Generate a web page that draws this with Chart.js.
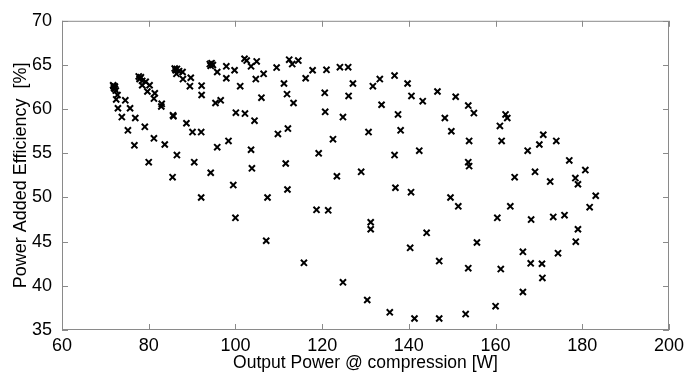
<!DOCTYPE html>
<html>
<head>
<meta charset="utf-8">
<script src="https://cdn.jsdelivr.net/npm/chart.js@4.4.1/dist/chart.umd.min.js"></script>
<style>
  html, body { margin: 0; padding: 0; background: #fff; }
  #wrap { width: 697px; height: 374px; }
</style>
</head>
<body>
<div id="wrap"><canvas id="paeChart" width="697" height="374"></canvas></div>
<script>
// output power [W] and PAE [%], paired by index
var outputPower = [
  71.8, 72.2, 72.0, 72.4, 71.9, 72.2, 72.8, 72.5, 74.6, 72.9, 75.7, 73.8, 76.9, 75.2, 79.1, 76.7, 81.2, 80.0, 83.7,
  77.7, 78.2, 77.9, 78.5, 79.3, 78.5, 80.2, 79.7, 81.4, 81.2, 83.0, 82.9, 78.0,
  85.6, 85.7, 88.7, 90.1, 92.1, 86.5, 90.5,
  86.0, 86.5, 87.0, 86.4, 87.8, 87.9, 89.7, 89.5, 92.2, 92.2, 86.2,
  95.4, 96.6, 95.8, 98.4, 94.3,
  94.1, 94.5, 94.8, 94.3, 95.8, 97.9, 99.8, 97.9, 101.1, 100.1, 102.2, 104.4, 106.0, 106.5, 104.7, 102.1, 102.6, 103.6, 104.9, 109.5,
  103.6, 103.8, 109.8,
  112.4, 113.1, 114.5, 111.2, 111.9, 113.4, 116.2, 117.8, 121.0, 124.1, 126.0, 120.6, 127.1, 126.1, 120.7, 124.8,
  131.7, 133.3, 136.7, 139.7, 133.7, 140.6, 143.2, 146.6, 150.8, 153.7, 155.0, 137.5, 148.3,
  112.1, 122.5, 130.7, 138.1, 149.8, 153.9, 119.2, 136.7, 142.4, 111.6, 153.7, 153.9, 129.0,
  162.3, 162.7, 161.0, 161.4, 171.0, 170.1, 167.4, 174.0, 177.0, 180.7, 169.1,
  85.5, 92.1, 99.5, 107.4, 100.0, 107.1,
  112.0, 123.4, 118.7, 121.4, 131.2, 131.2, 136.9, 140.5, 149.6, 151.4, 144.1, 155.7, 140.3, 115.8, 147.0, 153.7,
  124.8, 130.4, 135.6, 141.3, 147.0, 153.1,
  164.4, 172.6, 178.4, 179.0, 183.1, 181.7, 163.4, 160.4, 168.2, 173.3, 175.9, 179.0, 178.5,
  166.3, 174.4, 168.1, 170.7, 170.8, 161.2, 166.3, 160.0
];
var efficiency = [
  62.7, 62.55, 62.4, 62.1, 62.6, 62.3, 61.6, 61.1, 61.0, 60.1, 60.1, 59.1, 59.0, 57.6, 58.0, 55.9, 56.7, 54.0, 56.0,
  63.7, 63.6, 63.4, 63.2, 63.1, 62.7, 62.7, 62.0, 61.8, 61.2, 60.6, 60.3, 63.5,
  59.3, 59.2, 58.4, 57.4, 57.4, 54.8, 54.0,
  64.6, 64.55, 64.3, 64.0, 64.2, 63.4, 63.55, 62.6, 62.66, 61.6, 64.4,
  60.7, 61.0, 55.7, 56.4, 52.8,
  65.1, 65.2, 65.0, 64.9, 64.2, 64.85, 64.4, 63.5, 62.6, 59.6, 59.5, 58.7, 61.3, 64.0, 63.4, 65.7, 65.5, 64.85, 65.4, 64.7,
  55.4, 53.3, 57.2,
  65.6, 65.1, 65.5, 62.9, 61.7, 60.7, 63.5, 64.4, 64.45, 64.75, 64.75, 61.85, 62.9, 61.5, 59.7, 59.1,
  62.6, 63.4, 63.8, 62.9, 60.5, 61.5, 60.9, 62.0, 61.4, 60.4, 59.55, 59.4, 59.0,
  57.8, 56.6, 57.4, 57.6, 57.5, 56.4, 55.0, 54.8, 55.3, 53.85, 54.0, 53.55, 52.9,
  59.4, 59.0, 58.1, 56.4, 57.1, 56.0, 55.3, 56.4, 54.2, 53.1, 52.9,
  52.3, 50.0, 51.4, 50.0, 47.7, 45.1,
  50.9, 52.4, 48.6, 48.55, 47.2, 46.4, 51.1, 50.6, 50.0, 49.0, 46.0, 44.9, 44.3, 42.6, 42.8, 42.0,
  40.4, 38.4, 37.0, 36.3, 36.3, 36.8,
  52.3, 51.8, 52.2, 51.5, 50.2, 48.9, 49.0, 47.7, 47.5, 47.8, 48.0, 46.4, 45.0,
  43.85, 43.7, 42.55, 42.5, 40.9, 41.9, 39.3, 37.7
];
var xTicks = [60, 80, 100, 120, 140, 160, 180, 200];
var yTicks = [35, 40, 45, 50, 55, 60, 65, 70];

var points = [];
for (var i in outputPower) {
  points.push({ x: outputPower[i], y: efficiency[i] });
}
console.log(points.length);

// matlab style box with the tick marks pointing inwards
var matlabBox = {
  id: 'matlabBox',
  afterDraw: function(chart) {
    var ctx = chart.ctx;
    var a = chart.chartArea;
    var sx = chart.scales.x;
    var sy = chart.scales.y;
    ctx.save();
    ctx.strokeStyle = '#8a8a8a';
    ctx.lineWidth = 1;
    ctx.strokeRect(a.left + 0.5, a.top + 0.5, a.right - a.left - 1, a.bottom - a.top - 1);
    ctx.beginPath();
    xTicks.forEach(function(v) {
      var px = Math.round(sx.getPixelForValue(v)) + 0.5;
      ctx.moveTo(px, a.bottom); ctx.lineTo(px, a.bottom - 6);
      ctx.moveTo(px, a.top); ctx.lineTo(px, a.top + 6);
    });
    yTicks.forEach(function(v) {
      var py = Math.round(sy.getPixelForValue(v)) + 0.5;
      ctx.moveTo(a.left, py); ctx.lineTo(a.left + 6, py);
      ctx.moveTo(a.right, py); ctx.lineTo(a.right - 6, py);
    });
    ctx.stroke();
    ctx.restore();
  }
};

var ctx = document.getElementById('paeChart');
var paeChart = new Chart(ctx, {
  type: 'scatter',
  data: {
    datasets: [{
      data: points,
      pointStyle: 'crossRot',
      pointRadius: 4.3,
      pointBorderWidth: 2,
      borderColor: '#000',
      backgroundColor: '#000'
    }]
  },
  options: {
    responsive: false,
    animation: false,
    events: [],
    layout: { padding: { top: 16, right: 28, left: 0, bottom: 0 } },
    plugins: { legend: { display: false }, tooltip: { enabled: false } },
    scales: {
      x: {
        type: 'linear',
        min: xTicks[0],
        max: xTicks[xTicks.length - 1],
        ticks: { stepSize: xTicks[1] - xTicks[0], color: '#000', padding: 5, maxRotation: 0,
                 font: { family: 'Liberation Sans', size: 18 } },
        grid: { display: false, drawTicks: false },
        border: { display: false },
        title: { display: true, text: 'Output Power @ compression [W]', color: '#000',
                 padding: { top: 0, bottom: 0 },
                 font: { family: 'Liberation Sans', size: 17.5 } },
        afterFit: function(scale) { scale.height = 44; }
      },
      y: {
        type: 'linear',
        min: yTicks[0],
        max: yTicks[yTicks.length - 1],
        ticks: { stepSize: yTicks[1] - yTicks[0], color: '#000', padding: 10,
                 font: { family: 'Liberation Sans', size: 18 } },
        grid: { display: false, drawTicks: false },
        border: { display: false },
        title: { display: true, text: 'Power Added Efficiency  [%]', color: '#000',
                 padding: { top: 10, bottom: 0 },
                 font: { family: 'Liberation Sans', size: 18 } },
        afterFit: function(scale) { scale.width = 62; }
      }
    }
  },
  plugins: [matlabBox]
});
</script>
</body>
</html>
